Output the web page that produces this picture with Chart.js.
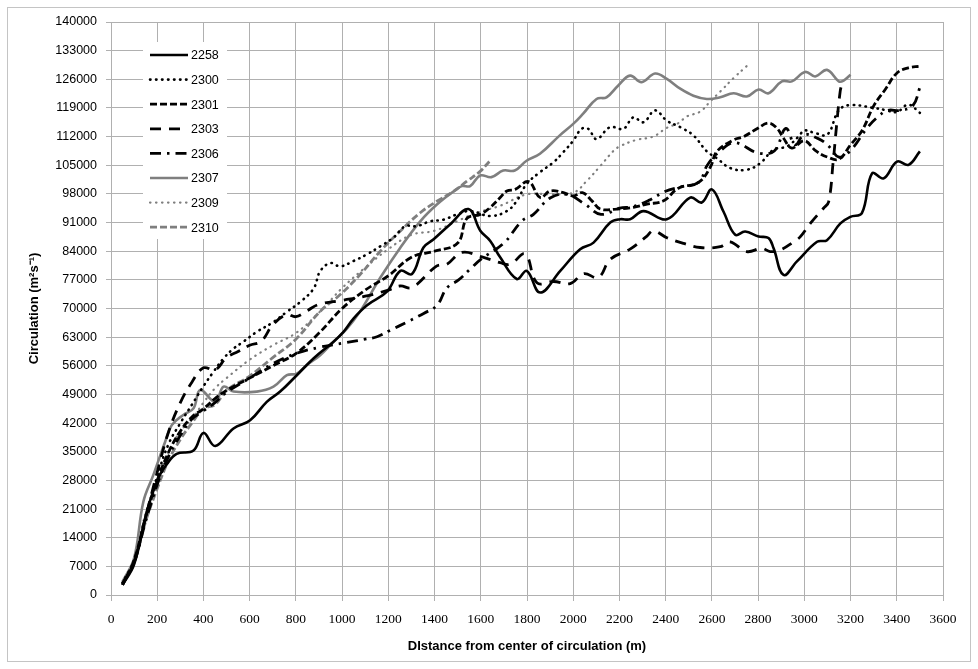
<!DOCTYPE html>
<html>
<head>
<meta charset="utf-8">
<script src="https://cdn.jsdelivr.net/npm/chart.js@4/dist/chart.umd.min.js"></script>
<style>
  html, body { margin: 0; padding: 0; background: #fff; }
  #wrap { width: 978px; height: 669px; }
</style>
</head>
<body>
<div id="wrap"><canvas id="chart" width="978" height="669"></canvas></div>
<script>
// Circulation vs distance - one [distance, circulation] list per case

const seriesNames = ['2258', '2300', '2301', '2303', '2306', '2307', '2309', '2310'];

const s2258 = [[50,2500],[100,7500],[155,20400],[205,28600],[241,31900],[284,34500],[357,35300],[400,39600],[451,36400],[530,40700],[602,42700],[674,47200],[732,49700],[804,53700],[876,57800],[963,61900],[1006,64300],[1050,67600],[1108,70800],[1194,74100],[1252,79200],[1302,78400],[1352,84900],[1396,86900],[1468,90600],[1547,94300],[1598,89000],[1641,86500],[1684,82500],[1756,77200],[1799,79200],[1857,73900],[1944,79200],[2030,84500],[2088,86100],[2160,91000],[2203,91800],[2246,91800],[2304,93800],[2405,91800],[2506,97100],[2556,95900],[2600,99100],[2650,93700],[2701,88000],[2744,88800],[2802,87600],[2845,87200],[2867,84700],[2910,78200],[2968,81500],[3055,86300],[3098,86700],[3156,90800],[3199,92400],[3249,93300],[3293,103000],[3343,101800],[3401,105900],[3451,105100],[3500,108400]];

const s2300 = [[50,3000],[100,8500],[150,19000],[200,29000],[250,37000],[300,42000],[350,46500],[400,51000],[443,54500],[487,57800],[530,60200],[573,61900],[631,64300],[703,66700],[761,69200],[819,71600],[877,74900],[905,79100],[949,81100],[992,80300],[1049,81600],[1107,83200],[1165,85200],[1222,87300],[1273,90100],[1323,90100],[1381,91300],[1439,91700],[1497,93000],[1554,93800],[1641,92600],[1713,93800],[1756,96300],[1798,100400],[1856,103300],[1914,105700],[1957,108200],[2000,111000],[2036,113900],[2065,113900],[2101,111400],[2159,114300],[2217,113900],[2260,116700],[2304,115500],[2354,118400],[2405,115900],[2463,114300],[2520,112300],[2578,108400],[2622,106700],[2680,104300],[2751,103900],[2809,105500],[2867,108800],[2925,109600],[2975,112000],[3000,113500],[3050,112800],[3100,112500],[3150,118500],[3200,119700],[3300,119000],[3350,118500],[3400,118000],[3450,119800],[3500,117800]];

const s2301 = [[50,2500],[100,8500],[150,19000],[200,28000],[250,35000],[300,40000],[350,43500],[400,45500],[450,48000],[500,50000],[600,53000],[700,56000],[800,59000],[900,64000],[1000,70000],[1100,74500],[1200,78000],[1300,82500],[1400,84000],[1500,86000],[1540,92000],[1598,93000],[1641,94700],[1684,97100],[1713,98700],[1749,99100],[1807,101000],[1857,97100],[1900,98700],[1958,98300],[2001,97500],[2040,98300],[2081,96300],[2117,94300],[2189,94300],[2261,94700],[2319,95500],[2391,96300],[2455,99400],[2542,100800],[2593,104500],[2622,108400],[2694,111200],[2737,112000],[2795,113900],[2845,115300],[2881,114100],[2910,111600],[2946,109200],[3000,111000],[3050,108500],[3100,107000],[3150,106500],[3200,110000],[3250,113500],[3300,119500],[3350,123500],[3400,127500],[3450,128800],[3500,129200]];

const s2303 = [[50,2800],[100,8000],[150,19000],[200,30000],[250,40000],[300,47000],[350,52000],[400,55500],[450,55000],[500,58000],[550,59500],[600,61000],[650,62000],[700,66000],[760,68500],[800,68000],[850,69500],[900,71000],[1000,72000],[1100,73000],[1200,74500],[1251,75500],[1302,75100],[1410,80400],[1453,80800],[1518,83700],[1605,82600],[1684,81200],[1727,80800],[1792,83300],[1843,76300],[1915,76600],[1987,76100],[2045,78500],[2109,77600],[2160,82000],[2246,84500],[2319,87700],[2347,89000],[2405,87300],[2477,85900],[2549,84900],[2636,85100],[2679,86300],[2751,83900],[2816,84700],[2852,83900],[2896,84300],[2954,86300],[2982,87500],[3026,90800],[3083,94500],[3105,96000],[3125,106000],[3140,115000],[3155,123000],[3165,125500]];

const s2306 = [[50,2500],[100,8000],[150,18000],[200,27000],[250,34000],[300,39000],[350,43000],[400,45000],[450,47000],[500,49500],[600,53000],[700,56500],[800,59000],[900,60500],[1021,61700],[1100,62500],[1151,63100],[1209,64700],[1281,66700],[1353,68800],[1411,70800],[1453,75000],[1504,77000],[1554,79600],[1600,82000],[1700,86000],[1778,91400],[1828,93000],[1900,97000],[1972,97900],[2050,95500],[2120,93000],[2201,94500],[2259,94900],[2330,96500],[2397,98600],[2455,99600],[2542,100800],[2580,105000],[2636,108500],[2700,110500],[2800,108000],[2870,108500],[2920,114000],[2960,110000],[3000,112500],[3060,111500],[3100,110000],[3150,107000],[3200,108600],[3270,114000],[3316,116700],[3360,118400],[3416,118400],[3470,119600],[3500,124000]];

const s2307 = [[50,3300],[100,9000],[140,22800],[183,29300],[234,37400],[263,41500],[313,44000],[357,45600],[386,50100],[451,47200],[487,50900],[530,49700],[631,49700],[703,50900],[761,53700],[804,54100],[848,56200],[905,58600],[963,61900],[1021,65100],[1078,69300],[1165,77500],[1251,84800],[1338,91300],[1410,95400],[1482,98600],[1518,99900],[1554,99900],[1597,102500],[1646,102100],[1697,103700],[1747,103700],[1798,106100],[1856,107800],[1942,112300],[2000,115100],[2043,117600],[2101,121200],[2144,121600],[2195,124500],[2246,126900],[2296,125300],[2354,127400],[2405,126100],[2463,123700],[2520,122000],[2578,121200],[2636,121600],[2694,122600],[2751,121800],[2802,123500],[2845,122600],[2903,125500],[2946,125500],[3004,127800],[3047,126700],[3098,128300],[3149,125500],[3170,125700],[3200,127100]];

const s2309 = [[50,3000],[100,9000],[150,20000],[200,28000],[250,35000],[300,40000],[350,43000],[400,47000],[450,50500],[500,53000],[600,57500],[700,61000],[800,64000],[900,69000],[1000,75000],[1100,80000],[1200,84500],[1300,88000],[1400,89000],[1500,91400],[1583,93400],[1684,95100],[1799,97900],[1900,97900],[2001,98300],[2059,101200],[2117,104800],[2174,108500],[2201,109600],[2274,111200],[2346,112000],[2404,114100],[2455,115300],[2491,116900],[2549,118100],[2593,120600],[2636,123000],[2694,126300],[2750,129200]];

const s2310 = [[50,2500],[100,8000],[150,18000],[200,26000],[250,33000],[300,38000],[350,42000],[400,45500],[450,46500],[500,50000],[600,53500],[700,58000],[800,62500],[905,69300],[992,73400],[1078,78300],[1165,84000],[1251,88900],[1338,93400],[1410,96200],[1482,98600],[1540,101100],[1597,103500],[1640,106100]];

const seriesData = [s2258, s2300, s2301, s2303, s2306, s2307, s2309, s2310];

// axis ticks
const xMin = 0, xMax = 3600, xStep = 200;
const yMin = 0, yMax = 140000, yStep = 7000;

const gridColor = '#b0b0b0';
const black = '#000000';
const gray = '#7f7f7f';

// line styles per series, same order as seriesNames
const styles = [
  { color: black, width: 2.6, dash: [], cap: 'butt' },
  { color: black, width: 2.6, dash: [0.5, 5.5], cap: 'round' },
  { color: black, width: 2.8, dash: [7, 3], cap: 'butt' },
  { color: black, width: 2.8, dash: [11, 8], cap: 'butt' },
  { color: black, width: 2.8, dash: [11, 6, 2.5, 6], cap: 'butt' },
  { color: gray, width: 2.6, dash: [], cap: 'butt' },
  { color: gray, width: 2.2, dash: [0.5, 5.5], cap: 'round' },
  { color: gray, width: 2.8, dash: [7, 3], cap: 'butt' },
];

const datasets = seriesNames.map((name, i) => ({
  label: name,
  data: seriesData[i].map((p) => ({ x: p[0], y: p[1] })),
  borderColor: styles[i].color,
  borderWidth: styles[i].width,
  borderDash: styles[i].dash,
  borderCapStyle: styles[i].cap,
  borderJoinStyle: 'round',
  pointRadius: 0,
  tension: 0.4,
  fill: false,
}));

// ===== PLUGINS =====
const framePlugin = {
  id: 'frame',
  beforeDraw(chart) {
    const ctx = chart.ctx;
    ctx.save();
    ctx.fillStyle = '#fff';
    ctx.fillRect(0, 0, chart.width, chart.height);
    ctx.strokeStyle = '#c4c4c4';
    ctx.lineWidth = 1;
    ctx.strokeRect(7.5, 7.5, 963, 654);
    ctx.restore();
  },
};

// legend sits inside the plot, top-left
const insideLegend = {
  id: 'insideLegend',
  afterDatasetsDraw(chart) {
    const ctx = chart.ctx;
    const a = chart.chartArea;
    const left = a.left + 32;
    const top = a.top + 20;
    ctx.save();
    ctx.fillStyle = '#fff';
    ctx.fillRect(left, top, 84, 197);
    chart.data.datasets.forEach((ds, i) => {
      const y = top + 13 + i * 24.6;
      ctx.beginPath();
      ctx.setLineDash(ds.borderDash);
      ctx.lineCap = ds.borderCapStyle;
      ctx.lineWidth = ds.borderWidth;
      ctx.strokeStyle = ds.borderColor;
      ctx.moveTo(left + 7, y);
      ctx.lineTo(left + 45, y);
      ctx.stroke();
      ctx.setLineDash([]);
      ctx.fillStyle = '#000';
      ctx.font = '12.5px "Liberation Sans", Arial, sans-serif';
      ctx.textBaseline = 'middle';
      ctx.fillText(ds.label, left + 48, y + 1);
    });
    ctx.restore();
  },
};

new Chart(document.getElementById('chart'), {
  type: 'line',
  data: { datasets: datasets },
  options: {
    responsive: false,
    animation: false,
    events: [],
    layout: { padding: { left: 0, top: 22, right: 35, bottom: 0 } },
    plugins: {
      legend: { display: false },
      tooltip: { enabled: false },
    },
    scales: {
      x: {
        type: 'linear',
        min: xMin,
        max: xMax,
        afterFit: (s) => { s.height = 74; },
        ticks: {
          stepSize: xStep,
          color: '#000',
          font: { family: '"Liberation Serif", "DejaVu Serif", serif', size: 13.5 },
          padding: 10,
          maxRotation: 0,
          callback: (v) => String(v),
        },
        grid: { color: gridColor, tickLength: 6, lineWidth: 1 },
        border: { color: gridColor },
        title: {
          display: true,
          text: 'DIstance from center of circulation (m)',
          color: '#000',
          font: { family: '"Liberation Sans", Arial, sans-serif', size: 13, weight: 'bold' },
          padding: { top: 0, bottom: 15 },
        },
      },
      y: {
        type: 'linear',
        min: yMin,
        max: yMax,
        afterFit: (s) => { s.width = 111; },
        ticks: {
          stepSize: yStep,
          color: '#000',
          font: { family: '"Liberation Sans", Arial, sans-serif', size: 12.5 },
          padding: 9,
          callback: (v) => String(v),
        },
        grid: { color: gridColor, tickLength: 5, lineWidth: 1 },
        border: { color: gridColor },
        title: {
          display: true,
          text: 'Circulation (m²s⁻¹)',
          color: '#000',
          font: { family: '"Liberation Sans", Arial, sans-serif', size: 13, weight: 'bold' },
          padding: { top: 27, bottom: 0 },
        },
      },
    },
  },
  plugins: [framePlugin, insideLegend],
});
</script>
</body>
</html>
